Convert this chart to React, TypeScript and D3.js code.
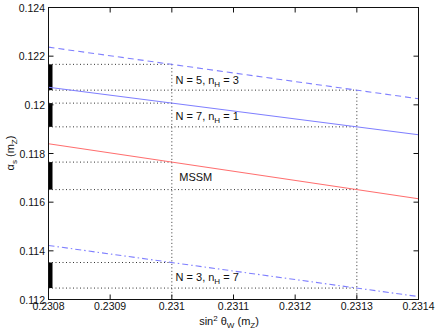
import React, { useEffect, useRef } from "react";
import * as d3 from "d3";

// sin^2 theta_W range of the plot and the two reference values
const xDomain = [0.2308, 0.2314];
const yDomain = [0.112, 0.124];
const xTicks = [0.2308, 0.2309, 0.231, 0.2311, 0.2312, 0.2313, 0.2314];
const yTicks = [0.112, 0.114, 0.116, 0.118, 0.12, 0.122, 0.124];
const xMarks = [0.231, 0.2313];

// alpha_s(m_Z) at the two ends of the range
const seriesNames = ["N5", "N7", "MSSM", "N3"];
const startValues = [0.12237, 0.12072, 0.1184, 0.11422];
const endValues = [0.12025, 0.11877, 0.11614, 0.11212];
const seriesColors = ["#7f7fff", "#7f7fff", "#ff6f6f", "#7f7fff"];
const seriesDash = ["6,4", null, null, "6,3,1.5,3"];

// labels: main text, subscript, tail, anchor in data coords
const labelMain = ["N = 5, n", "N = 7, n", "MSSM", "N = 3, n"];
const labelSub = ["H", "H", "", "H"];
const labelTail = [" = 3", " = 1", "", " = 7"];
const labelX = [0.231006, 0.231006, 0.231012, 0.231006];
const labelY = [0.12084, 0.11936, 0.11689, 0.11278];

const W = 436;
const H = 334;

export default function App() {
  const ref = useRef(null);

  useEffect(() => {
    document.body.style.margin = "0";
    const svg = d3.select(ref.current);
    svg.selectAll("*").remove();

    const x = d3.scaleLinear().domain(xDomain).range([48.5, 418.5]);
    const y = d3.scaleLinear().domain(yDomain).range([299.5, 7.5]);
    const font = "'Liberation Sans', Arial, sans-serif";

    const g = svg.append("g");
    g.append("rect")
      .attr("width", W)
      .attr("height", H)
      .attr("fill", "white");

    // dotted guides and black range bars
    seriesNames.forEach((name, i) => {
      const line = d3
        .scaleLinear()
        .domain(xDomain)
        .range([startValues[i], endValues[i]]);
      const hi = line(xMarks[0]);
      const lo = line(xMarks[1]);
      g.append("rect")
        .attr("x", x(xDomain[0]))
        .attr("y", y(hi))
        .attr("width", 4)
        .attr("height", y(lo) - y(hi))
        .attr("fill", "black");
      [hi, lo].forEach((v, j) => {
        g.append("line")
          .attr("x1", x(xDomain[0]))
          .attr("x2", x(xMarks[j]))
          .attr("y1", y(v))
          .attr("y2", y(v))
          .attr("stroke", "#333")
          .attr("stroke-dasharray", "1,2.5");
      });
    });

    // vertical dotted lines from the top (N=5) line down to the axis
    const top = d3
      .scaleLinear()
      .domain(xDomain)
      .range([startValues[0], endValues[0]]);
    xMarks.forEach((m) => {
      g.append("line")
        .attr("x1", x(m))
        .attr("x2", x(m))
        .attr("y1", y(top(m)))
        .attr("y2", y(yDomain[0]))
        .attr("stroke", "#333")
        .attr("stroke-dasharray", "1,2.5");
    });

    // the four lines
    const lineGen = d3
      .line()
      .x((d) => x(d[0]))
      .y((d) => y(d[1]));
    seriesNames.forEach((name, i) => {
      g.append("path")
        .attr("d", lineGen([
          [xDomain[0], startValues[i]],
          [xDomain[1], endValues[i]],
        ]))
        .attr("fill", "none")
        .attr("stroke", seriesColors[i])
        .attr("stroke-width", 1.1)
        .attr("stroke-dasharray", seriesDash[i]);
    });

    // annotations
    seriesNames.forEach((name, i) => {
      const t = g.append("text")
        .attr("x", x(labelX[i]))
        .attr("y", y(labelY[i]))
        .attr("font-family", font)
        .attr("font-size", 11)
        .attr("fill", "#111");
      t.append("tspan").text(labelMain[i]);
      if (labelSub[i]) {
        t.append("tspan").attr("dy", 3).attr("font-size", 8).text(labelSub[i]);
        t.append("tspan").attr("dy", -3).text(labelTail[i]);
      }
    });

    // box
    g.append("rect")
      .attr("x", x(xDomain[0]))
      .attr("y", y(yDomain[1]))
      .attr("width", x(xDomain[1]) - x(xDomain[0]))
      .attr("height", y(yDomain[0]) - y(yDomain[1]))
      .attr("fill", "none")
      .attr("stroke", "#111")
      .attr("stroke-width", 1);

    // ticks (inward on all sides)
    xTicks.forEach((t) => {
      g.append("line")
        .attr("x1", x(t)).attr("x2", x(t))
        .attr("y1", y(yDomain[0])).attr("y2", y(yDomain[0]) - 5)
        .attr("stroke", "#111");
      g.append("line")
        .attr("x1", x(t)).attr("x2", x(t))
        .attr("y1", y(yDomain[1])).attr("y2", y(yDomain[1]) + 5)
        .attr("stroke", "#111");
      g.append("text")
        .attr("x", x(t))
        .attr("y", 310)
        .attr("text-anchor", "middle")
        .attr("font-family", font)
        .attr("font-size", 10.5)
        .attr("fill", "#111")
        .text(String(t));
    });
    yTicks.forEach((t) => {
      g.append("line")
        .attr("x1", x(xDomain[0])).attr("x2", x(xDomain[0]) + 5)
        .attr("y1", y(t)).attr("y2", y(t))
        .attr("stroke", "#111");
      g.append("line")
        .attr("x1", x(xDomain[1])).attr("x2", x(xDomain[1]) - 5)
        .attr("y1", y(t)).attr("y2", y(t))
        .attr("stroke", "#111");
      g.append("text")
        .attr("x", 45)
        .attr("y", y(t) + 4)
        .attr("text-anchor", "end")
        .attr("font-family", font)
        .attr("font-size", 10.5)
        .attr("fill", "#111")
        .text(String(t));
    });

    // x label
    const xl = g.append("text")
      .attr("x", 229)
      .attr("y", 325)
      .attr("text-anchor", "middle")
      .attr("font-family", font)
      .attr("font-size", 11)
      .attr("fill", "#111");
    xl.append("tspan").text("sin");
    xl.append("tspan").attr("dy", -4).attr("font-size", 8).text("2");
    xl.append("tspan").attr("dy", 4).text(" θ");
    xl.append("tspan").attr("dy", 3).attr("font-size", 8).text("W");
    xl.append("tspan").attr("dy", -3).text(" (m");
    xl.append("tspan").attr("dy", 3).attr("font-size", 8).text("Z");
    xl.append("tspan").attr("dy", -3).text(")");

    // y label
    const yl = g.append("text")
      .attr("transform", "translate(14,153) rotate(-90)")
      .attr("text-anchor", "middle")
      .attr("font-family", font)
      .attr("font-size", 11)
      .attr("fill", "#111");
    yl.append("tspan").text("α");
    yl.append("tspan").attr("dy", 3).attr("font-size", 8).text("s");
    yl.append("tspan").attr("dy", -3).text(" (m");
    yl.append("tspan").attr("dy", 3).attr("font-size", 8).text("Z");
    yl.append("tspan").attr("dy", -3).text(")");
  }, []);

  return (
    <div id="chartArea">
      <svg ref={ref} width={W} height={H} style={{ display: "block" }}></svg>
    </div>
  );
}
